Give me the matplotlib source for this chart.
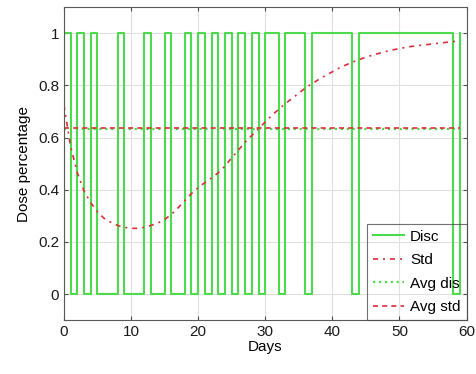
import numpy as np
import matplotlib
matplotlib.use("Agg")
import matplotlib.pyplot as plt

plt.rcParams["font.family"] = ["Liberation Sans", "DejaVu Sans"]

# daily treatment schedule (1 = full dose, 0 = no dose)
days = np.arange(60)
disc_dose = [1, 0, 1, 0, 1, 0, 0, 0, 1, 0,
             0, 0, 1, 0, 0, 1, 0, 0, 1, 0,
             1, 0, 1, 0, 1, 0, 1, 0, 1, 0,
             1, 1, 0, 1, 1, 1, 0, 1, 1, 1,
             1, 1, 1, 0, 1, 1, 1, 1, 1, 1,
             1, 1, 1, 1, 1, 1, 1, 1, 0, 1]

# standard (continuous) dose schedule
std_dose = [0.725, 0.565, 0.465, 0.395, 0.350, 0.315, 0.290, 0.275, 0.263, 0.256,
            0.252, 0.252, 0.256, 0.263, 0.272, 0.286, 0.305, 0.330, 0.358, 0.385,
            0.408, 0.427, 0.445, 0.465, 0.490, 0.522, 0.552, 0.582, 0.608, 0.633,
            0.660, 0.685, 0.708, 0.730, 0.750, 0.770, 0.790, 0.807, 0.823, 0.838,
            0.852, 0.866, 0.878, 0.889, 0.899, 0.908, 0.916, 0.923, 0.930, 0.936,
            0.941, 0.946, 0.950, 0.953, 0.956, 0.959, 0.962, 0.965, 0.968, 0.971]

green = (0.30, 0.86, 0.30)
red = (0.86, 0.18, 0.22)

fig = plt.figure(figsize=(4.77, 3.74), dpi=100)
ax = fig.add_axes([0.134, 0.144, 0.844, 0.837])

disc = np.asarray(disc_dose, dtype=float)
std = np.asarray(std_dose)

# step line starts from zero at t=0
ax.step(np.r_[days[0], days], np.r_[0.0, disc], where="post",
        color=green, lw=1.5, label="Disc")
ax.plot(days, std, color=red, lw=1.2, dashes=(3, 3, 1.2, 3), label="Std")
ax.plot(days, np.full(len(days), disc.mean()), color=green, lw=1.6,
        linestyle=":", label="Avg dis")
ax.plot(days, np.full(len(days), std.mean()), color=red, lw=1.2,
        dashes=(3, 2.5), label="Avg std")

ax.set_xlim(0, 60)
ax.set_ylim(-0.1, 1.1)
ax.set_xticks(np.arange(0, 61, 10))
ax.set_yticks([0, 0.2, 0.4, 0.6, 0.8, 1])
ax.set_yticklabels(["0", "0.2", "0.4", "0.6", "0.8", "1"])
ax.grid(True, color="0.88", lw=0.8)
ax.set_axisbelow(True)
ax.tick_params(direction="in", length=3, labelsize=11, top=True, right=True,
               color="0.3", labelcolor="0.1")
for sp in ax.spines.values():
    sp.set_color("0.35")
    sp.set_linewidth(0.8)

ax.set_xlabel("Days", fontsize=11, labelpad=1)
ax.set_ylabel("Dose percentage", fontsize=11, labelpad=5)

leg = ax.legend(loc="lower right", fontsize=11, frameon=True, fancybox=False,
                borderaxespad=0.0, handlelength=2.0, handletextpad=0.4,
                labelspacing=0.62, borderpad=0.4)
leg.get_frame().set_facecolor("none")
leg.get_frame().set_edgecolor("0.3")
leg.get_frame().set_linewidth(0.8)

fig.savefig("out.png", dpi=100)
